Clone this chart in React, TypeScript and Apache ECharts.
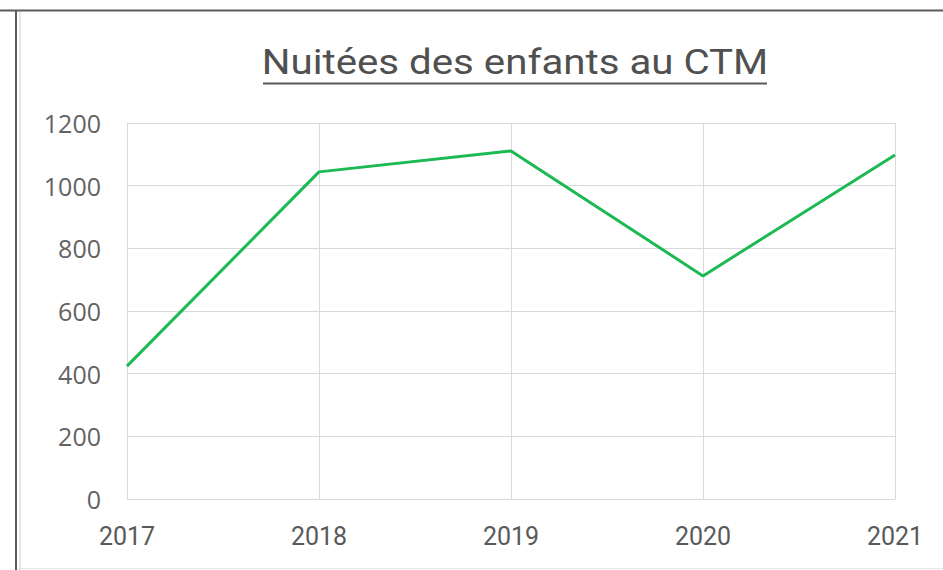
import React, { useEffect, useRef } from "react";
import * as echarts from "echarts";

const categories = ["2017", "2018", "2019", "2020", "2021"];
const values = [424, 1044, 1111, 712, 1098];
const titleText = "Nuitées des enfants au CTM";

export default function App() {
  const ref = useRef<HTMLDivElement>(null);
  useEffect(() => {
    if (!ref.current) return;
    const chart = echarts.init(ref.current, null, { renderer: "svg" });
    chart.setOption({
      animation: false,
      backgroundColor: "#ffffff",
      grid: { left: 127, right: 48, top: 123, bottom: 71 },
      xAxis: {
        type: "category",
        data: categories,
        boundaryGap: false,
        axisLine: { show: true, lineStyle: { color: "#d9d9d9", width: 1 } },
        axisTick: { show: false },
        splitLine: { show: true, lineStyle: { color: "#d9d9d9", width: 1 } },
        axisLabel: {
          color: "#595959",
          fontSize: 25,
          fontFamily: "Roboto, sans-serif",
          margin: 25,
        },
      },
      yAxis: {
        type: "value",
        min: 0,
        max: 1200,
        interval: 200,
        axisLine: { show: true, lineStyle: { color: "#d9d9d9", width: 1 } },
        axisTick: { show: false },
        splitLine: { show: true, lineStyle: { color: "#d9d9d9", width: 1 } },
        axisLabel: {
          color: "#636363",
          fontSize: 25,
          fontFamily: "Open Sans, sans-serif",
          margin: 26,
          formatter: (v: number) => String(v),
        },
      },
      series: [
        {
          type: "line",
          data: values,
          symbol: "none",
          lineStyle: { color: "#1db954", width: 3 },
          itemStyle: { color: "#1db954" },
        },
      ],
      graphic: [
        { type: "line", shape: { x1: 0, y1: 10.5, x2: 943, y2: 10.5 }, style: { stroke: "#5a5a5a", lineWidth: 2 } },
        { type: "line", shape: { x1: 16, y1: 10, x2: 16, y2: 570 }, style: { stroke: "#5a5a5a", lineWidth: 2 } },
        { type: "line", shape: { x1: 20, y1: 12, x2: 20, y2: 570 }, style: { stroke: "#e6e6e6", lineWidth: 2 } },
        { type: "line", shape: { x1: 20, y1: 568.5, x2: 943, y2: 568.5 }, style: { stroke: "#e6e6e6", lineWidth: 1 } },
        {
          type: "text",
          x: 515,
          y: 62,
          scaleX: 1.15,
          style: {
            text: titleText,
            fill: "#505050",
            fontSize: 35,
            fontFamily: "Roboto, sans-serif",
            align: "center",
            verticalAlign: "middle",
          },
        },
        { type: "line", shape: { x1: 263, y1: 83.5, x2: 767, y2: 83.5 }, style: { stroke: "#595959", lineWidth: 2 } },
      ],
    });
    return () => chart.dispose();
  }, []);
  return <div ref={ref} style={{ position: "fixed", left: 0, top: 0, width: 943, height: 570 }} />;
}
